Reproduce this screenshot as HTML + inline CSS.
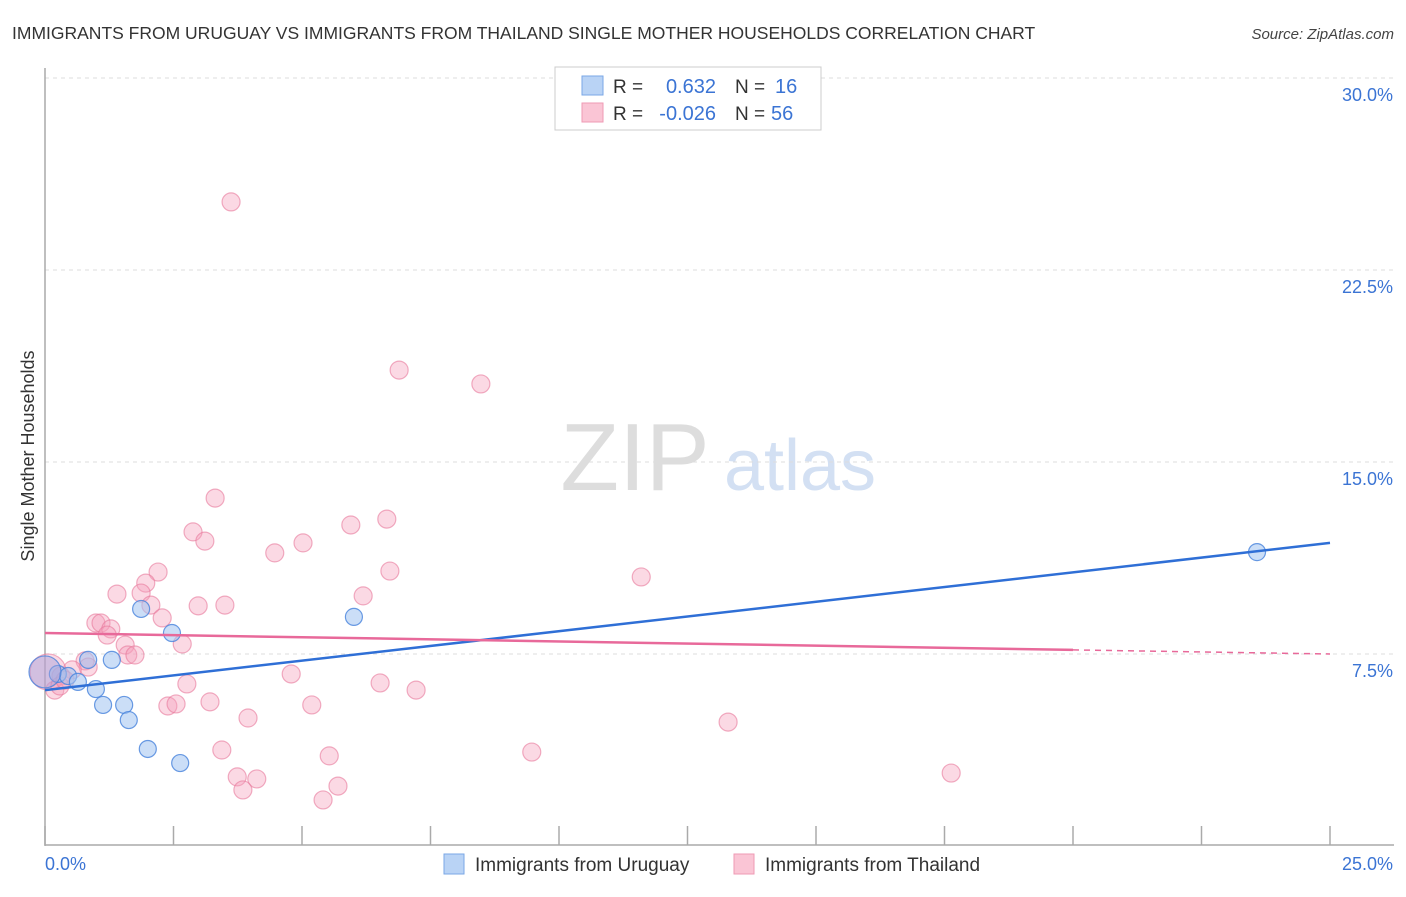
<!DOCTYPE html>
<html><head><meta charset="utf-8"><style>
body{margin:0;background:#fff;font-family:"Liberation Sans",sans-serif;}
svg text{font-family:"Liberation Sans",sans-serif;}
</style></head><body>
<svg id="chart" width="1406" height="892" xmlns="http://www.w3.org/2000/svg">
<text x="12" y="39" font-size="17.5" fill="#333">IMMIGRANTS FROM URUGUAY VS IMMIGRANTS FROM THAILAND SINGLE MOTHER HOUSEHOLDS CORRELATION CHART</text>
<text x="1394" y="39" font-size="15" fill="#444" font-style="italic" text-anchor="end">Source: ZipAtlas.com</text>
<text transform="translate(34,456) rotate(-90)" font-size="18" fill="#333" text-anchor="middle">Single Mother Households</text>
<g>
<text x="635" y="490" font-size="96" fill="#ddd" font-family="Liberation Serif" text-anchor="middle">ZIP</text>
<text x="800" y="490" font-size="72" fill="#d3e0f3" text-anchor="middle">atlas</text>
</g>
<g id="grid"></g><g id="axes"></g><g id="marks"></g>
<g>
<rect x="555" y="67" width="266" height="63" fill="#fff" stroke="#ccc"/>
<rect x="582" y="76" width="21" height="19" fill="#b9d3f5" stroke="#7aa7e6"/>
<rect x="582" y="103" width="21" height="19" fill="#fac5d5" stroke="#ef9ab4"/>
<text x="613" y="93" font-size="19" fill="#333">R =</text>
<text x="716" y="93" font-size="20" fill="#3b74d4" text-anchor="end">0.632</text>
<text x="735" y="93" font-size="19" fill="#333">N =</text>
<text x="775" y="93" font-size="20" fill="#3b74d4">16</text>
<text x="613" y="120" font-size="19" fill="#333">R =</text>
<text x="716" y="120" font-size="20" fill="#3b74d4" text-anchor="end">-0.026</text>
<text x="735" y="120" font-size="19" fill="#333">N =</text>
<text x="771" y="120" font-size="20" fill="#3b74d4">56</text>
</g>
<g>
<rect x="444" y="854" width="20" height="20" fill="#b9d3f5" stroke="#7aa7e6"/>
<text x="475" y="871" font-size="19" fill="#333">Immigrants from Uruguay</text>
<rect x="734" y="854" width="20" height="20" fill="#fac5d5" stroke="#ef9ab4"/>
<text x="765" y="871" font-size="19" fill="#333">Immigrants from Thailand</text>
</g>
</svg>
<script>
const xTicks=[0,2.5,5,7.5,10,12.5,15,17.5,20,22.5,25];
const yTicks=[7.5,15,22.5,30];
const yTickLabels=["7.5%","15.0%","22.5%","30.0%"];
const xEndLabels=["0.0%","25.0%"];
const uruguayX=[1.87,2.47,6.01,23.58,0.84,1.30,0.25,0.45,0.64,0.99,1.13,1.54,1.63,2.00,2.63,0.0];
const uruguayY=[9.26,8.32,8.95,11.48,7.27,7.27,6.72,6.64,6.41,6.13,5.51,5.51,4.92,3.79,3.24,6.80];
const thailandX=[3.62,6.89,8.48,3.31,2.88,3.11,5.95,6.65,5.02,4.47,6.71,11.60,2.20,1.40,1.96,1.87,2.06,2.98,3.50,6.19,2.28,0.99,1.09,1.28,1.21,2.67,1.56,1.61,1.75,0.78,0.84,0.53,0.31,0.19,4.79,2.76,6.52,7.22,3.21,2.39,2.55,5.19,3.95,13.29,3.44,5.53,9.47,3.74,4.12,17.63,3.85,5.70,5.41,0.06,0.29,0.39];
const thailandY=[25.16,18.59,18.05,13.59,12.27,11.91,12.54,12.77,11.84,11.45,10.74,10.51,10.70,9.84,10.27,9.88,9.41,9.38,9.41,9.77,8.91,8.71,8.71,8.48,8.24,7.89,7.85,7.46,7.46,7.23,6.99,6.88,6.64,6.09,6.72,6.33,6.37,6.09,5.63,5.47,5.55,5.51,5.00,4.84,3.75,3.52,3.67,2.70,2.62,2.85,2.19,2.34,1.80,6.80,6.25,6.48];
const uruguayTrend=[6.09,11.84];
const thailandTrend=[8.32,7.66,7.5];

const NS="http://www.w3.org/2000/svg";
const X0=45,X1=1330,Y0=846,YPX=192/7.5;
function sx(v){return X0+(v/25)*(X1-X0);}
function sy(v){return Y0-v*YPX;}
function mk(tag,attrs,parent){const e=document.createElementNS(NS,tag);for(const k in attrs)e.setAttribute(k,attrs[k]);parent.appendChild(e);return e;}
const grid=document.getElementById('grid'),axes=document.getElementById('axes'),marks=document.getElementById('marks');
yTicks.forEach((t,i)=>{
  const l=mk('line',{x1:45,x2:1394,y1:sy(t),y2:sy(t),stroke:'#ddd','stroke-dasharray':'4,4'},grid);
  
  
  const tx=mk('text',{x:1393,y:sy(t)+23,'font-size':18,fill:'#3b74d4','text-anchor':'end'},axes);
  tx.textContent=yTickLabels[i];
  
  
});
const ya=mk('line',{x1:45,x2:45,y1:68,y2:846,stroke:'#aaa','stroke-width':1.5},axes);


const xa=mk('line',{x1:45,x2:1394,y1:845,y2:845,stroke:'#aaa','stroke-width':1.5},axes);


xTicks.forEach(t=>{
  const l=mk('line',{x1:sx(t),x2:sx(t),y1:826,y2:845,stroke:'#aaa','stroke-width':1.5},axes);
  
  
});
const xl0=mk('text',{x:45,y:870,'font-size':18,fill:'#3b74d4'},axes);xl0.textContent=xEndLabels[0];


const xl1=mk('text',{x:1393,y:870,'font-size':18,fill:'#3b74d4','text-anchor':'end'},axes);xl1.textContent=xEndLabels[1];



thailandX.forEach((x,i)=>{
  const big=i===53;
  const c=mk('circle',{cx:sx(x),cy:sy(thailandY[i]),r:big?18:9,fill:'rgba(246,160,188,0.4)',stroke:'rgba(232,120,155,0.6)','stroke-width':1.2},marks);
  
  
});
uruguayX.forEach((x,i)=>{
  const big=i===15;
  const c=mk('circle',{cx:sx(x),cy:sy(uruguayY[i]),r:big?16:8.5,fill:big?'rgba(160,160,220,0.45)':'rgba(160,195,240,0.55)',stroke:'rgba(70,130,220,0.8)','stroke-width':1.2},marks);
  
  
});
const tb=mk('line',{x1:sx(0),y1:sy(uruguayTrend[0]),x2:sx(25),y2:sy(uruguayTrend[1]),stroke:'#2f6fd6','stroke-width':2.5},marks);


const tp=mk('line',{x1:sx(0),y1:sy(thailandTrend[0]),x2:sx(20),y2:sy(thailandTrend[1]),stroke:'#e8699a','stroke-width':2.5},marks);


const tpd=mk('line',{x1:sx(20),y1:sy(thailandTrend[1]),x2:sx(25),y2:sy(thailandTrend[2]),stroke:'#e8699a','stroke-width':1.5,'stroke-dasharray':'6,5'},marks);


</script>
</body></html>
